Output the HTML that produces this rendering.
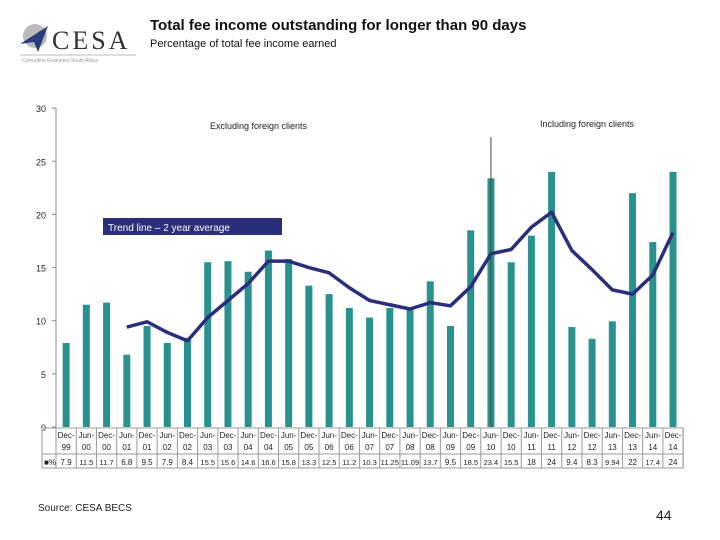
<!DOCTYPE html>
<html><head><meta charset="utf-8"><style>
body{margin:0;width:720px;height:540px;background:#fff;font-family:"Liberation Sans",sans-serif;overflow:hidden;position:relative}
.t{position:absolute}
</style></head><body>
<div class="t" style="left:18px;top:22px;width:120px;height:40px">
<svg width="120" height="40"><circle cx="17" cy="14" r="12" fill="#bbb"/><polygon points="2,22 30,4 20,30 16,20" fill="#2a3d7a"/><text x="34" y="27" font-family="Liberation Serif" font-size="26" fill="#333" letter-spacing="3">CESA</text><line x1="2" y1="33" x2="118" y2="33" stroke="#bbb"/><text x="4" y="40" font-size="5" fill="#999">Consulting Engineers South Africa</text></svg></div>
<div class="t" style="left:150px;top:17px;font-size:15px;font-weight:bold;color:#111">Total fee income outstanding for longer than 90 days</div>
<div class="t" style="left:150px;top:38px;font-size:11px;color:#111">Percentage of total fee income earned</div>
<svg id="c" class="t" style="left:0;top:0" width="720" height="540"></svg>
<div class="t" style="left:38px;top:503px;font-size:10px;color:#222">Source: CESA BECS</div>
<div class="t" style="left:656px;top:507px;font-size:14px;color:#222">44</div>
<script>
const cats=["Dec-99","Jun-00","Dec-00","Jun-01","Dec-01","Jun-02","Dec-02","Jun-03","Dec-03","Jun-04","Dec-04","Jun-05","Dec-05","Jun-06","Dec-06","Jun-07","Dec-07","Jun-08","Dec-08","Jun-09","Dec-09","Jun-10","Dec-10","Jun-11","Dec-11","Jun-12","Dec-12","Jun-13","Dec-13","Jun-14","Dec-14"];
const values=[7.9,11.5,11.7,6.8,9.5,7.9,8.4,15.5,15.6,14.6,16.6,15.8,13.3,12.5,11.2,10.3,11.2,11.09,13.7,9.5,18.5,23.4,15.5,18,24,9.4,8.3,9.94,22,17.4,24];
const labels=["7.9","11.5","11.7","6.8","9.5","7.9","8.4","15.5","15.6","14.6","16.6","15.8","13.3","12.5","11.2","10.3","11.25","11.09","13.7","9.5","18.5","23.4","15.5","18","24","9.4","8.3","9.94","22","17.4","24"];
const trend=[null,null,null,9.4,9.9,8.9,8.1,10.3,11.9,13.5,15.6,15.6,15.0,14.5,13.1,11.9,11.5,11.1,11.7,11.4,13.2,16.3,16.7,18.8,20.2,16.6,14.8,12.9,12.5,14.3,18.3];
const yTicks=[0,5,10,15,20,25,30];
const splitIndex=21;
const NS="http://www.w3.org/2000/svg",svg=document.getElementById('c');
const x0=56,cw=20.23,y0=427,ky=10.63;
const X=i=>x0+cw*(i+0.5),Y=v=>y0-v*ky;
function mk(t,a,txt){const e=document.createElementNS(NS,t);for(const k in a)e.setAttribute(k,a[k]);if(txt!=null)e.textContent=txt;svg.appendChild(e);return e;}
let e;
e=mk('line',{x1:x0,y1:Y(0),x2:x0,y2:Y(30),stroke:'#888'});

yTicks.forEach(v=>{e=mk('text',{x:x0-10,y:Y(v)+4,'font-size':9,'text-anchor':'end',fill:'#222'},v);

mk('line',{x1:x0-4,y1:Y(v),x2:x0,y2:Y(v),stroke:'#888'});});
values.forEach((v,i)=>{e=mk('rect',{x:X(i)-3.5,y:Y(v),width:7,height:v*ky,fill:'#2a928e'});
});
let pts=[];trend.forEach((v,i)=>{if(v!=null)pts.push(X(i)+','+Y(v));});
e=mk('polyline',{points:pts.join(' '),fill:'none',stroke:'#2b2e7b','stroke-width':3.5,'stroke-linejoin':'round'});

e=mk('line',{x1:X(splitIndex),y1:137,x2:X(splitIndex),y2:y0,stroke:'#444'});

e=mk('text',{x:210,y:129,'font-size':9,fill:'#222'},'Excluding foreign clients');

e=mk('text',{x:540,y:127,'font-size':9,fill:'#222'},'Including foreign clients');

e=mk('rect',{x:103,y:218,width:179,height:17,fill:'#2b2e7b'});

e=mk('text',{x:108,y:231,'font-size':10,fill:'#fff'},'Trend line – 2 year average');

mk('rect',{x:42,y:428,width:x0+cw*31-42,height:40,fill:'none',stroke:'#999'});
mk('line',{x1:42,y1:454,x2:x0+cw*31,y2:454,stroke:'#999'});
mk('line',{x1:x0,y1:428,x2:x0,y2:468,stroke:'#999'});
e=mk('text',{x:44,y:465,'font-size':8,fill:'#222'},'■%');

cats.forEach((c,i)=>{mk('line',{x1:x0+cw*(i+1),y1:428,x2:x0+cw*(i+1),y2:468,stroke:'#999'});
const p=c.split('-');
e=mk('text',{x:X(i),y:438,'font-size':8,'text-anchor':'middle',fill:'#222'},p[0]+'-');

mk('text',{x:X(i),y:450,'font-size':8,'text-anchor':'middle',fill:'#222'},p[1]);
e=mk('text',{x:X(i),y:465,'font-size':labels[i].length>3?7.5:8,'text-anchor':'middle',fill:'#222'},labels[i]);
});
</script>
</body></html>
